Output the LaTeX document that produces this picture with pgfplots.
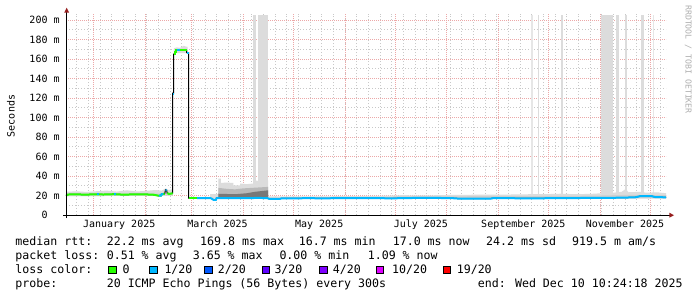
\documentclass[border=0pt]{standalone}
\usepackage{fontspec}
\setmainfont{DejaVu Sans Mono}
\usepackage{pgfplots}
\pgfplotsset{compat=1.18}
\definecolor{mgrid}{RGB}{236,168,168}
\definecolor{sgrid}{RGB}{200,200,200}
\definecolor{arrowc}{RGB}{150,30,30}
\definecolor{loss0}{HTML}{26FF00}
\definecolor{loss1}{HTML}{00B8FF}
\definecolor{loss2}{HTML}{0059FF}
\definecolor{loss3}{HTML}{5E00FF}
\definecolor{loss4}{HTML}{7E00FF}
\definecolor{loss10}{HTML}{DD00FF}
\definecolor{loss19}{HTML}{FF0000}
\definecolor{smokeA}{RGB}{220,220,220}
\definecolor{smokeB}{RGB}{185,185,185}
\definecolor{smokeC}{RGB}{120,120,120}
\definecolor{wmark}{RGB}{175,175,175}
\newcommand{\ax}{\fontsize{10bp}{12bp}\selectfont}
\newcommand{\lgf}{\fontsize{11.6bp}{14bp}\selectfont}
\newcommand{\wmf}{\fontsize{8.2bp}{10bp}\selectfont}
\begin{document}
\begin{tikzpicture}[x=1bp,y=1bp]
\useasboundingbox (0,0) rectangle (697,297);
\fill[white] (0,0) rectangle (697,297);
\begin{axis}[
  at={(66.2bp,81.8bp)}, anchor=south west, scale only axis,
  width=600bp, height=201.5bp,
  xmin=-16.3, xmax=343.7, ymin=0, ymax=206.5,
  axis line style={draw=none},
  major tick length=0pt, minor tick length=0pt,
  xtick={15.5,74.5,135.5,196.5,258,319},
  xticklabels={January 2025,March 2025,May 2025,July 2025,September 2025,November 2025},
  xticklabel style={font=\ax, anchor=base, inner sep=0pt, yshift=-12.1bp},
  extra x ticks={0,31,59,90,120,151,181,212,243,273,304,334},
  extra x tick labels={},
  extra x tick style={grid=major},
  minor xtick={-10,-3,...,340},
  xminorgrids,
  ytick={0,20,...,200},
  yticklabels={0\hphantom{ m},20 m,40 m,60 m,80 m,100 m,120 m,140 m,160 m,180 m,200 m},
  yticklabel style={font=\ax, anchor=east, inner sep=0pt, xshift=-6.4bp},
  minor ytick={10,30,...,190},
  ymajorgrids, yminorgrids,
  major grid style={mgrid, line width=1bp, dash pattern=on 1bp off 1bp},
  minor grid style={sgrid, line width=1bp, dash pattern=on 1bp off 2bp},
  clip=false,
]
% full-height smoke bars
\addplot[fill=smokeA, draw=none] coordinates {(95.8,18)(95.8,205)(97.6,205)(97.6,18)};
\addplot[fill=smokeA, draw=none] coordinates {(98.6,18)(98.6,205)(104.6,205)(104.6,18)};
\addplot[fill=smokeA!70!white, draw=none] coordinates {(262.6,18)(262.6,205)(263.6,205)(263.6,18)};
\addplot[fill=smokeA, draw=none] coordinates {(266.6,18)(266.6,205)(267.4,205)(267.4,18)};
\addplot[fill=smokeA, draw=none] coordinates {(280.6,18)(280.6,205)(282.0,205)(282.0,18)};
\addplot[fill=smokeA, draw=none] coordinates {(304.6,18)(304.6,205)(311.8,205)(311.8,18)};
\addplot[fill=smokeA, draw=none] coordinates {(313.4,18)(313.4,205)(315.2,205)(315.2,18)};
\addplot[fill=smokeA, draw=none] coordinates {(319.2,18)(319.2,205)(320.4,205)(320.4,18)};
\addplot[fill=smokeA, draw=none] coordinates {(328.4,18)(328.4,205)(330.4,205)(330.4,18)};
\addplot[fill=smokeA!70!white, draw=none] coordinates {(335.6,18)(335.6,205)(336.4,205)(336.4,18)};
% smoke pre-spike
\addplot[fill=smokeA, draw=none] coordinates {(-16.3,24)(-10,24.5)(-4,23.8)(2,24.6)(8,25.2)(14,24.2)(20,25.5)(26,24.3)(32,25)(37,25.8)(41,25.2)(43.5,27.5)(45,25.8)(47.5,26.5)(47.5,20)(-16.3,19.5)};
\addplot[fill=smokeB!60!white, draw=none] coordinates {(-16.3,22.5)(0,22.8)(15,22.6)(30,22.9)(42,23)(43.5,26.5)(45,23)(47.5,23.5)(47.5,20)(-16.3,19.5)};
% smoke at spike
\addplot[fill=smokeA, draw=none] coordinates {(48.3,166)(48.3,171)(50,172)(52,171.5)(54,173.5)(56.5,172.5)(56.8,166)};
% smoke after spike
\addplot[fill=smokeA, draw=none] coordinates {(57.2,18.8)(70,18.8)(70,21.5)(75,21.5)(75,37.5)(76.5,37.5)(76.5,33)(80,33.5)(84,33)(84,30.6)(88,30.6)(88,32.5)(92,31.8)(96,32.5)(96,35.7)(100,35)(104.8,35.7)(104.8,19.3)(130,19.2)(150,19.5)(170,19.8)(185,20.5)(200,20.3)(215,20.8)(230,21)(250,21.2)(262,21.5)(270,21.5)(280,22)(290,21.5)(300,22)(305,22.5)(312,23)(317,24)(319.5,27)(321,23.5)(328,24)(332,23)(338,23.5)(343.7,22.5)(343.7,17)(57.2,17)};
\addplot[fill=smokeB, draw=none] coordinates {(75,18)(75,28)(80,27)(85,26.5)(90,27.5)(95,28)(100,28.5)(104.8,29)(104.8,18)};
\addplot[fill=smokeC, draw=none] coordinates {(75,18)(75,22)(85,21.5)(92,22.5)(97,24)(104.8,25.5)(104.8,18)};
\addplot[fill=smokeB!70!white, draw=none] coordinates {(180,17.5)(180,19.2)(260,19.6)(300,20)(320,20.8)(343.7,20.5)(343.7,17.5)};
% median line (black base)
\addplot[black, line width=1bp] coordinates {(-16.3,19.8)(-15.5,21.2)(-10,21.3)(-4,21.1)(0,21.4)(6,21.2)(12,21.5)(18,21.1)(24,21.3)(30,21.4)(36,21.0)(39,20.0)(40.5,20.0)(41,21.5)(42.8,22)(43.3,26)(44,25.5)(44.3,22.5)(45.5,21.8)(47.6,22.5)(47.6,125)(48.2,125)(48.2,165)(48.8,165)(48.8,167)(49.5,167)(49.5,169)(56,169)(56,166.5)(57.2,166.5)(57.2,17.6)(62,17.6)(70,17.6)(71,17)(72,15.8)(73.5,15.8)(74,17.6)(80,17.4)(90,17.5)(100,17.7)(104.5,17.4)(105.5,16.8)(112,16.8)(113,17.3)(130,17.4)(140,17.3)(150,17.6)(165,17.5)(180,17.3)(190,17.6)(200,17.8)(215,17.5)(220,16.9)(238,16.9)(240,17.5)(260,17.3)(275,17.4)(290,17.6)(305,17.8)(315,17.9)(325,18.3)(328,19.5)(335,19.5)(337,18.6)(343.7,18.3)};
% coloured median
\addplot[loss0, line width=2bp] coordinates {(-16.3,19.8)(-15.5,21.2)(-10,21.3)(-4,21.1)(0,21.4)(6,21.2)(12,21.5)(18,21.1)(24,21.3)(30,21.4)(36,21.0)(39,20.0)(40.5,20.0)(41,21.5)(42.8,22)};
\addplot[loss0, line width=2bp] coordinates {(44.3,22.5)(45.5,21.8)(47.6,22.5)};
\addplot[loss1, line width=2bp] coordinates {(2,21.4)(3.4,21.4)};
\addplot[loss1, line width=2bp] coordinates {(12.5,21.5)(13.5,21.5)};
\addplot[loss1, line width=2bp] coordinates {(39.3,20.0)(40.5,20.0)(41,21.5)(42,21.7)};
\addplot[loss1, line width=1.5bp] coordinates {(43.3,26)(44,25.5)};
\addplot[loss1, line width=1.5bp] coordinates {(47.6,124)(48.2,124)};
\addplot[loss0, line width=2bp] coordinates {(48.2,165)(48.8,165)(48.8,167)(49.5,167)(49.5,169)(50.2,169)};
\addplot[loss1, line width=2bp] coordinates {(50.2,169)(52.2,169)};
\addplot[loss0, line width=2bp] coordinates {(52.2,169)(56,169)};
\addplot[loss1, line width=2bp] coordinates {(56,166.5)(57.2,166.5)};
\addplot[loss0, line width=2bp] coordinates {(57.2,17.6)(62.2,17.6)};
\addplot[loss1, line width=2bp] coordinates {(62.2,17.6)(70,17.6)(71,17)(72,15.8)(73.5,15.8)(74,17.6)(80,17.4)(90,17.5)(100,17.7)(104.5,17.4)(105.5,16.8)(112,16.8)(113,17.3)(130,17.4)(140,17.3)(150,17.6)(165,17.5)(180,17.3)(190,17.6)(200,17.8)(215,17.5)(220,16.9)(238,16.9)(240,17.5)(260,17.3)(275,17.4)(290,17.6)(305,17.8)(315,17.9)(325,18.3)(328,19.5)(335,19.5)(337,18.6)(343.7,18.3)};
\end{axis}
% axes
\draw[line width=1bp] (63.2,81.8) -- (669.5,81.8);
\draw[line width=1bp] (66.7,78.8) -- (66.7,284.5);
\fill[arrowc] (64.2,284.3) -- (69.2,284.3) -- (66.7,289.3) -- cycle;
\fill[arrowc] (669.3,84.3) -- (669.3,79.3) -- (674,81.8) -- cycle;
% labels
\node[rotate=90, anchor=base, inner sep=0pt, font=\ax] at (14.5,181) {Seconds};
\node[rotate=-90, anchor=base west, inner sep=0pt, font=\wmf, text=wmark] at (685.5,292) {RRDTOOL / TOBI OETIKER};
% legend
\begin{scope}[every node/.style={anchor=base west, inner sep=0pt, font=\lgf}]
\node at (15.3,52) {median rtt:};
\node at (106.6,52) {22.2 ms avg};
\node at (200.0,52) {169.8 ms max};
\node at (298.6,52) {16.7 ms min};
\node at (392.6,52) {17.0 ms now};
\node at (486.0,52) {24.2 ms sd};
\node at (572.0,52) {919.5 m am/s};
\node at (15.3,38) {packet loss:};
\node at (106.6,38) {0.51 \% avg};
\node at (192.6,38) {3.65 \% max};
\node at (279.3,38) {0.00 \% min};
\node at (367.6,38) {1.09 \% now};
\node at (15.3,24) {loss color:};
\node at (122.3,24) {0};
\node at (164.3,24) {1/20};
\node at (217.6,24) {2/20};
\node at (274.3,24) {3/20};
\node at (332.6,24) {4/20};
\node at (392.0,24) {10/20};
\node at (456.6,24) {19/20};
\node at (15.3,10) {probe:};
\node at (106.6,10) {20 ICMP Echo Pings (56 Bytes) every 300s};
\node at (477.6,10) {end: Wed Dec 10 10:24:18 2025};
\end{scope}
\begin{scope}[line width=1bp, draw=black]
\filldraw[fill=loss0] (108.8,23.5) rectangle (116.2,30.5);
\filldraw[fill=loss1] (149.8,23.5) rectangle (157.2,30.5);
\filldraw[fill=loss2] (204.8,23.5) rectangle (212.2,30.5);
\filldraw[fill=loss3] (262.2,23.5) rectangle (269.6,30.5);
\filldraw[fill=loss4] (319.8,23.5) rectangle (327.2,30.5);
\filldraw[fill=loss10] (376.0,23.5) rectangle (383.4,30.5);
\filldraw[fill=loss19] (443.2,23.5) rectangle (450.6,30.5);
\end{scope}
\end{tikzpicture}
\end{document}
